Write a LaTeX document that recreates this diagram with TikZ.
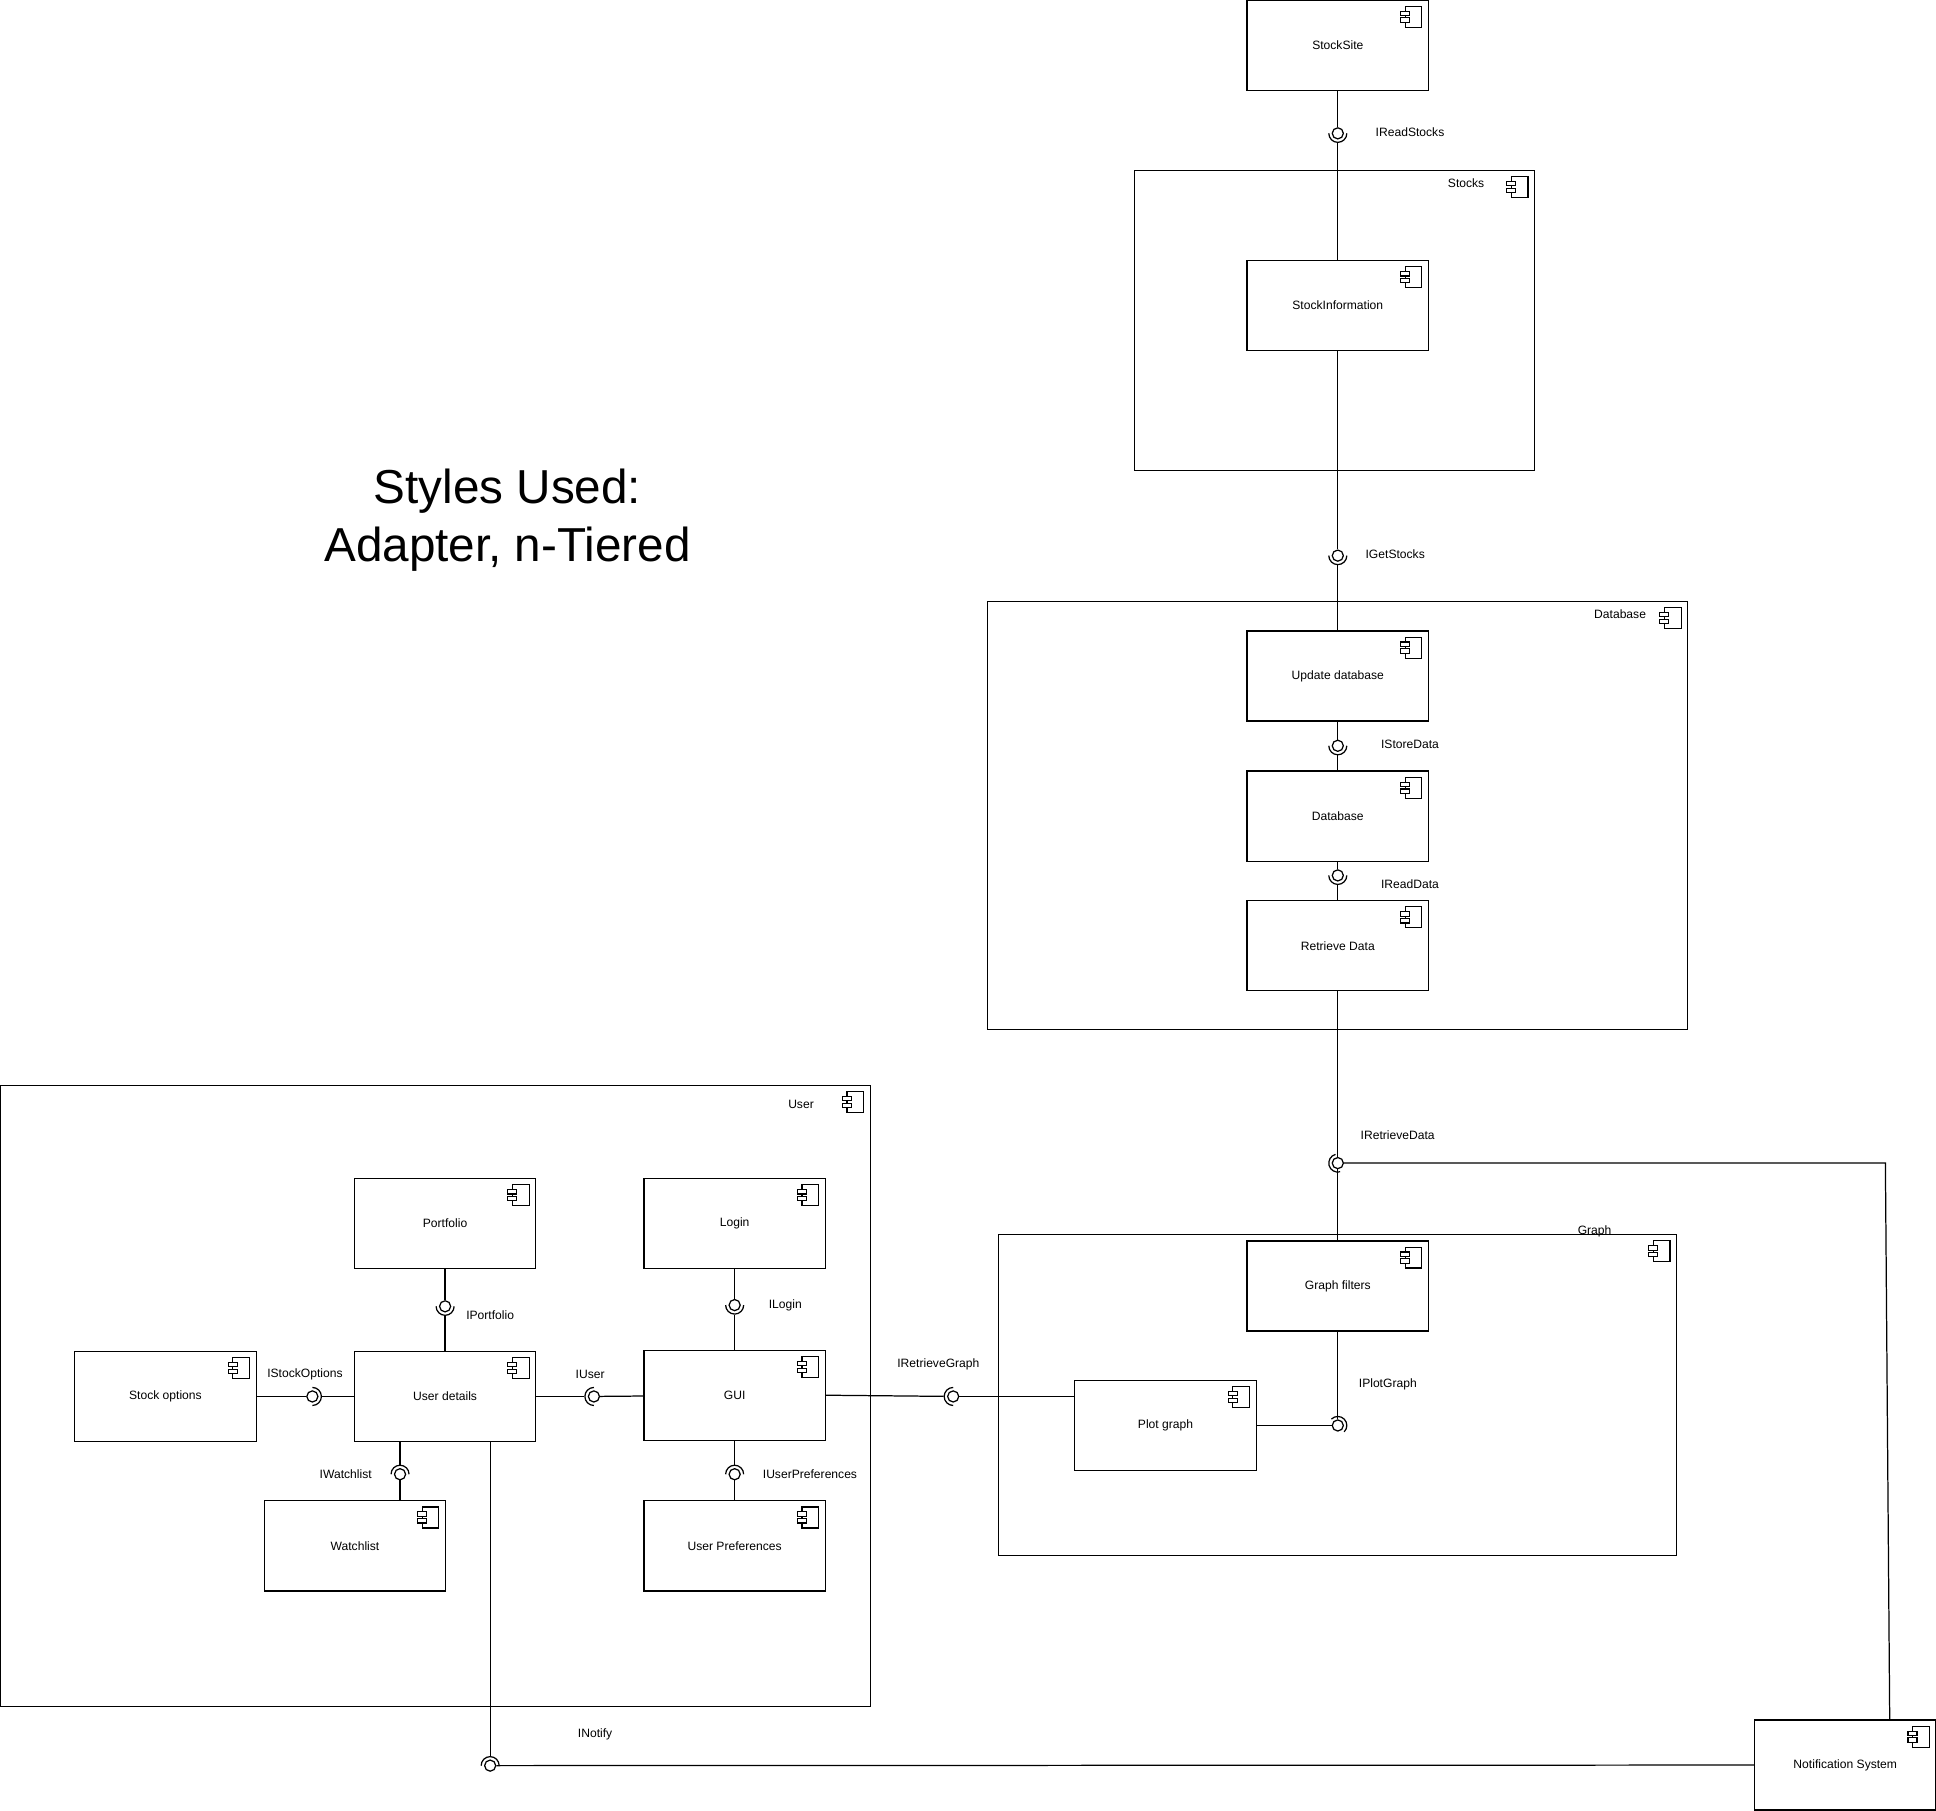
\documentclass[tikz,border=0pt]{standalone}
\usepackage{fontspec}
\setmainfont{Liberation Sans}
\usetikzlibrary{positioning}
\usetikzlibrary{shapes}
\tikzset{%
    comp/.style={draw, line width=0.5pt, minimum width=73.5pt, minimum height=36.5pt, inner sep=0,
        font={\fontsize{4.9}{6}\selectfont}},
    container/.style={draw, line width=0.5pt, inner sep=0},
    ball/.style={circle, draw, line width=0.5pt, fill=white, inner sep=0, minimum size=4.5pt},
    sock/.style={circle, inner sep=0, minimum size=7.3pt},
    lbl/.style={inner sep=0, font={\fontsize{4.9}{6}\selectfont}},
    wire/.style={line width=0.5pt},
}
% little component symbol in the upper right corner of a box
\newcommand{\compicon}[1]{%
    \draw [line width=0.45pt] ([xshift=-3pt,yshift=-2.75pt]#1.north east) ++(-13.5,0) rectangle ++(13.5,17);
    \draw [line width=0.45pt, fill=white] ([xshift=-3pt,yshift=-2.75pt]#1.north east) ++(-17.2,4) rectangle ++(7.3,3.5);
    \draw [line width=0.45pt, fill=white] ([xshift=-3pt,yshift=-2.75pt]#1.north east) ++(-17.2,9.5) rectangle ++(7.3,3.5);
}
% ball and socket: name, position, side of the socket
\newcommand{\iface}[3]{%
    \node [ball] (#1) at (#2) {};
    \node [sock] (#1s) at (#2) {};
    \draw [wire] (#1.center) ++(#3-90:7.3) arc [start angle=#3-90, end angle=#3+90, radius=7.3];
}
\begin{document}
\begin{tikzpicture}[x=0.5pt,y=-0.5pt]
\useasboundingbox (0,0) rectangle (1568,1466.7);

\node [font={\fontsize{19.3}{23.5}\selectfont}, align=center] (title) at (411,421) {Styles Used:\\Adapter, n-Tiered};

% containers
\node [container, minimum width=162pt, minimum height=121.5pt] (stocks) at (1081,259.5) {};
\node [lbl, anchor=east] (stockslbl) at ([xshift=-20.5pt,yshift=-5.5pt]stocks.north east) {Stocks};
\compicon{stocks}
\node [container, minimum width=283.5pt, minimum height=173.5pt] (dbbox) at (1083.5,660.5) {};
\node [lbl, anchor=east] (dbboxlbl) at ([xshift=-17pt,yshift=-5.5pt]dbbox.north east) {Database};
\compicon{dbbox}
\node [container, minimum width=274.5pt, minimum height=130pt] (graph) at (1083.5,1130) {};
\node [lbl, anchor=east] (graphlbl) at ([xshift=-26.5pt,yshift=1pt]graph.north east) {Graph};
\compicon{graph}
\node [container, minimum width=352.5pt, minimum height=251.5pt] (user) at (352.5,1130.5) {};
\node [lbl, anchor=east] (userlbl) at ([xshift=-23pt,yshift=-8pt]user.north east) {User};
\compicon{user}

% components
\node [comp] (stocksite) at (1083.5,36.5) {StockSite};
\node [comp] (stockinfo) at (1083.5,247.5) {StockInformation};
\node [comp] (updatedb) at (1083.5,547.5) {Update database};
\node [comp] (database) at (1083.5,661) {Database};
\node [comp] (retrieve) at (1083.5,766) {Retrieve Data};
\node [comp] (graphfilters) at (1083.5,1041.5) {Graph filters};
\node [comp] (plotgraph) at (944,1154.5) {Plot graph};
\node [comp] (portfolio) at (360.5,991) {Portfolio};
\node [comp] (login) at (595,991) {Login};
\node [comp] (stockoptions) at (134,1131) {Stock options};
\node [comp] (userdetails) at (360.5,1131) {User details};
\node [comp] (gui) at (595,1130) {GUI};
\node [comp] (watchlist) at (287.5,1252) {Watchlist};
\node [comp] (userprefs) at (595,1252) {User Preferences};
\node [comp] (notifsys) at (1494.5,1429.5) {Notification System};
\foreach \c in {stocksite,stockinfo,updatedb,database,retrieve,graphfilters,plotgraph,
    portfolio,login,stockoptions,userdetails,gui,watchlist,userprefs,notifsys}
    {\compicon{\c}}

% interfaces
\iface{irs}{1083.5,108}{90}
\iface{igs}{1083.5,450}{90}
\iface{isd}{1083.5,604}{90}
\iface{ird}{1083.5,709}{90}
\iface{irtd}{1083.5,942}{165}
\iface{ipg}{1083.5,1154.5}{315}
\iface{irg}{772,1131}{180}
\iface{ius}{481,1131}{180}
\iface{iso}{253,1131}{0}
\iface{ipf}{360.5,1058}{90}
\iface{ilg}{595,1057}{90}
\iface{iwl}{324,1194}{270}
\iface{iup}{595,1194}{270}
\iface{inf}{397,1430}{270}

\node [lbl] (irslbl) at (1142,107) {IReadStocks};
\node [lbl] (igslbl) at (1130,449) {IGetStocks};
\node [lbl] (isdlbl) at (1142,603) {IStoreData};
\node [lbl] (irdlbl) at (1142,716) {IReadData};
\node [lbl] (irtdlbl) at (1132,919) {IRetrieveData};
\node [lbl] (ipglbl) at (1124,1121) {IPlotGraph};
\node [lbl] (irglbl) at (760,1105) {IRetrieveGraph};
\node [lbl] (iuslbl) at (478,1113) {IUser};
\node [lbl] (isolbl) at (247,1113) {IStockOptions};
\node [lbl] (ipflbl) at (397,1065) {IPortfolio};
\node [lbl] (ilglbl) at (636,1057) {ILogin};
\node [lbl] (iwllbl) at (280,1194) {IWatchlist};
\node [lbl] (iuplbl) at (656,1194) {IUserPreferences};
\node [lbl] (inflbl) at (482,1405) {INotify};

% connectors
\coordinate (notecorner) at (1527,942);
\draw [wire] (stocksite) -- (irs);
\draw [wire] (stockinfo) -- (irss);
\draw [wire] (stockinfo) -- (igs);
\draw [wire] (igss) -- (updatedb);
\draw [wire] (updatedb) -- (isd);
\draw [wire] (isds) -- (database);
\draw [wire] (database) -- (ird);
\draw [wire] (irds) -- (retrieve);
\draw [wire] (retrieve) -- (irtd);
\draw [wire] (irtd) -- (graphfilters);
\draw [wire] (irtd) -- (notecorner) -- ([xshift=55pt]notifsys.north west);
\draw [wire] (graphfilters) -- (ipg);
\draw [wire] (plotgraph.east) -- (ipg);
\draw [wire] (gui.east) -- (irgs);
\draw [wire] (irg) -- (plotgraph.west |- irg);
\draw [wire] (userdetails) -- (iuss);
\draw [wire] (ius) -- (gui);
\draw [wire] (stockoptions) -- (iso);
\draw [wire] (isos) -- (userdetails);
\draw [wire] (portfolio) -- (ipf);
\draw [wire] (ipfs) -- (userdetails);
\draw [wire] (login) -- (ilg);
\draw [wire] (ilgs) -- (gui);
\draw [wire] (userdetails.south -| iwl) -- (iwls);
\draw [wire] (iwl) -- (watchlist.north -| iwl);
\draw [wire] (gui) -- (iups);
\draw [wire] (iup) -- (userprefs);
\draw [wire] (userdetails.south -| inf) -- (infs);
\draw [wire] (inf) -- (notifsys);
\end{tikzpicture}
\end{document}
